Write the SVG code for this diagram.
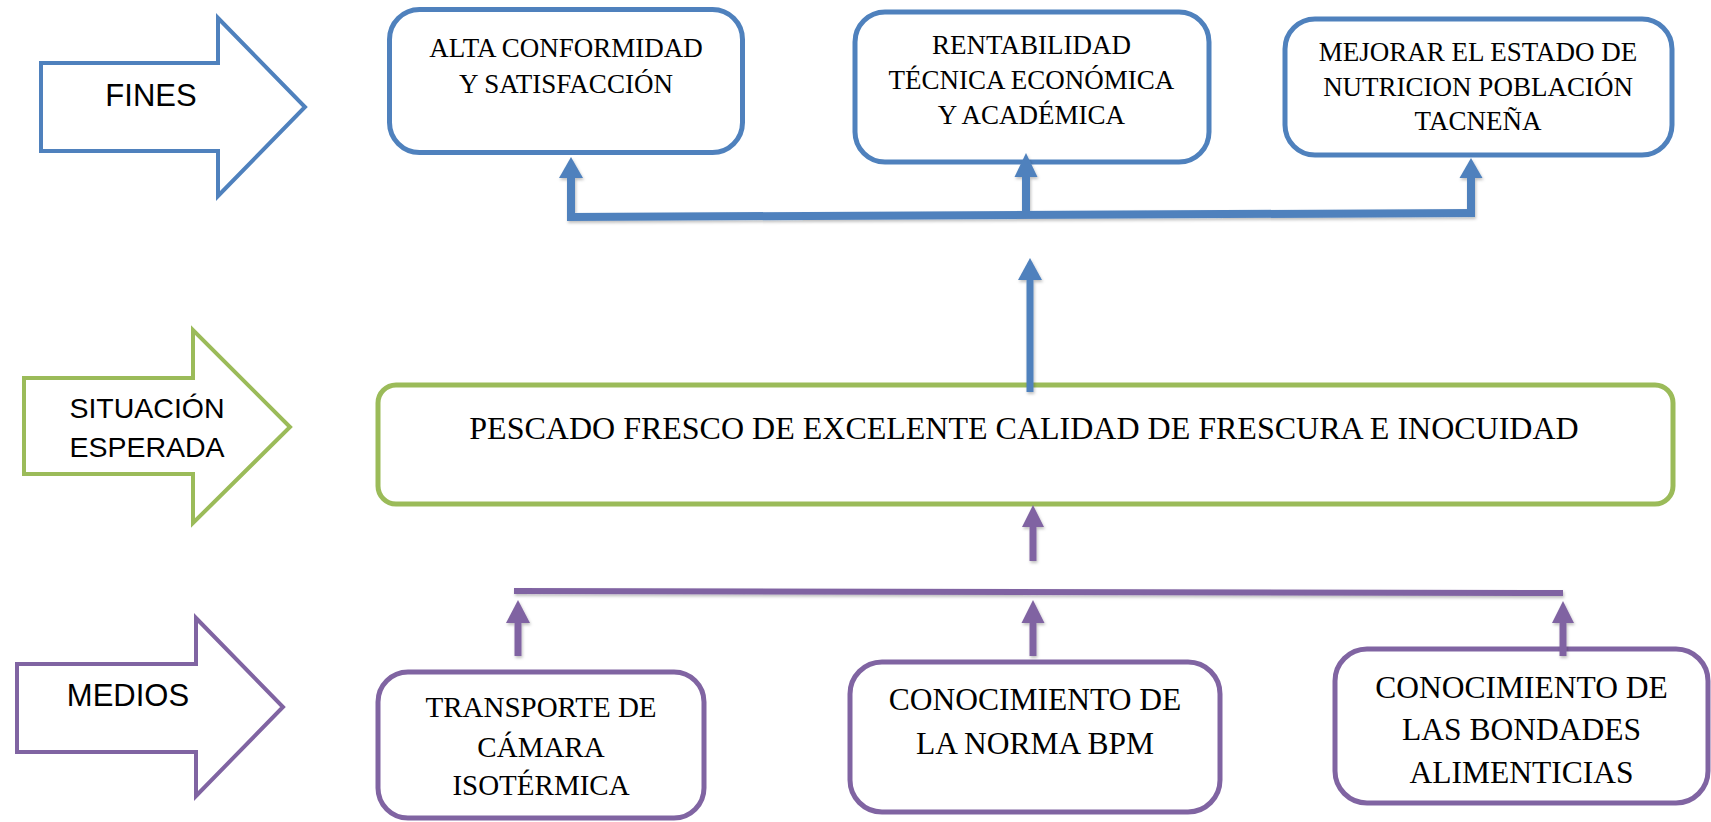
<svg xmlns="http://www.w3.org/2000/svg" width="1711" height="822" viewBox="0 0 1711 822">
<defs>
<style>
.blk{fill:#fff;stroke-width:4;stroke-linejoin:miter}
.lbl{font-family:"Liberation Sans",Arial,sans-serif;fill:#000;text-anchor:middle}
.box{fill:#fff;stroke-width:5}
.bt{font-family:"Liberation Serif","Times New Roman",serif;fill:#000;text-anchor:middle}
.blue{stroke:#4F81BD}
.green{stroke:#9BBB59}
.purple{stroke:#8064A2}
.fb{fill:#4F81BD}
.fp{fill:#8064A2}
</style>
<filter id="sh" x="-10%" y="-50%" width="120%" height="200%">
<feDropShadow dx="1" dy="2" stdDeviation="1.5" flood-color="#000" flood-opacity="0.25"/>
</filter>
</defs>

<g id="lbl-fines">
<polygon class="blk blue" points="41,63 218,63 218,18 305,107 218,196 218,151 41,151"/>
<text class="lbl" x="151" y="106" font-size="31">FINES</text>
</g>
<g id="lbl-situacion">
<polygon class="blk green" points="24,378 193,378 193,330 290,427 193,523 193,474 24,474"/>
<text class="lbl" x="147" y="418" font-size="28.5">SITUACIÓN</text>
<text class="lbl" x="147" y="457" font-size="28.5">ESPERADA</text>
</g>
<g id="lbl-medios">
<polygon class="blk purple" points="17,664 196,664 196,618 283,707 196,796 196,752 17,752"/>
<text class="lbl" x="128" y="706" font-size="31">MEDIOS</text>
</g>

<g id="fin1">
<rect class="box blue" x="389.5" y="9.5" width="353" height="143" rx="30"/>
<text class="bt" x="566" y="57" font-size="27">ALTA CONFORMIDAD</text>
<text class="bt" x="566" y="93" font-size="27">Y SATISFACCIÓN</text>
</g>
<g id="fin2">
<rect class="box blue" x="855" y="12" width="354" height="150" rx="30"/>
<text class="bt" x="1031.5" y="54" font-size="27">RENTABILIDAD</text>
<text class="bt" x="1031.5" y="89" font-size="27">TÉCNICA ECONÓMICA</text>
<text class="bt" x="1031.5" y="124" font-size="27">Y ACADÉMICA</text>
</g>
<g id="fin3">
<rect class="box blue" x="1285" y="19" width="387" height="136" rx="30"/>
<text class="bt" x="1478" y="61" font-size="27">MEJORAR EL ESTADO DE</text>
<text class="bt" x="1478" y="96" font-size="27">NUTRICION POBLACIÓN</text>
<text class="bt" x="1478" y="130" font-size="27">TACNEÑA</text>
</g>

<g id="situacion">
<rect class="box green" x="378" y="385" width="1295" height="119" rx="18"/>
<text class="bt" x="1024" y="439" font-size="32">PESCADO FRESCO DE EXCELENTE CALIDAD DE FRESCURA E INOCUIDAD</text>
</g>

<g id="medio1">
<rect class="box purple" x="378" y="672" width="326" height="146" rx="30"/>
<text class="bt" x="541" y="717" font-size="29">TRANSPORTE DE</text>
<text class="bt" x="541" y="757" font-size="29">CÁMARA</text>
<text class="bt" x="541" y="795" font-size="29">ISOTÉRMICA</text>
</g>
<g id="medio2">
<rect class="box purple" x="850" y="662" width="370" height="150" rx="32"/>
<text class="bt" x="1035" y="710" font-size="31.5">CONOCIMIENTO DE</text>
<text class="bt" x="1035" y="754" font-size="31.5">LA NORMA BPM</text>
</g>
<g id="medio3">
<rect class="box purple" x="1335" y="649" width="373" height="154" rx="32"/>
<text class="bt" x="1521.5" y="698" font-size="31.5">CONOCIMIENTO DE</text>
<text class="bt" x="1521.5" y="740" font-size="31.5">LAS BONDADES</text>
<text class="bt" x="1521.5" y="783" font-size="31.5">ALIMENTICIAS</text>
</g>

<g id="connectors" filter="url(#sh)">
<line class="blue" x1="567" y1="217" x2="1475" y2="213" stroke-width="8"/>
<line class="blue" x1="571" y1="217" x2="571" y2="177" stroke-width="8"/>
<polygon class="fb" points="559,178 583,178 571,157"/>
<line class="blue" x1="1026" y1="214" x2="1026" y2="176" stroke-width="8"/>
<polygon class="fb" points="1014.5,177 1037.5,177 1026,153"/>
<line class="blue" x1="1471" y1="213" x2="1471" y2="177" stroke-width="8"/>
<polygon class="fb" points="1459.5,178 1482.5,178 1471,158"/>
<line class="blue" x1="1030" y1="392" x2="1030" y2="279" stroke-width="7"/>
<polygon class="fb" points="1018,280 1042,280 1030,258"/>
<line class="purple" x1="1033" y1="561" x2="1033" y2="526" stroke-width="7"/>
<polygon class="fp" points="1022,527 1044,527 1033,505"/>
<line class="purple" x1="514" y1="591" x2="1563" y2="593" stroke-width="6"/>
<line class="purple" x1="518" y1="656" x2="518" y2="622" stroke-width="7"/>
<polygon class="fp" points="506,623 530,623 518,600"/>
<line class="purple" x1="1033" y1="656" x2="1033" y2="622" stroke-width="7"/>
<polygon class="fp" points="1021.5,623 1044.5,623 1033,600"/>
<line class="purple" x1="1563" y1="656" x2="1563" y2="622" stroke-width="7"/>
<polygon class="fp" points="1552,623 1574,623 1563,601"/>
</g>
</svg>
